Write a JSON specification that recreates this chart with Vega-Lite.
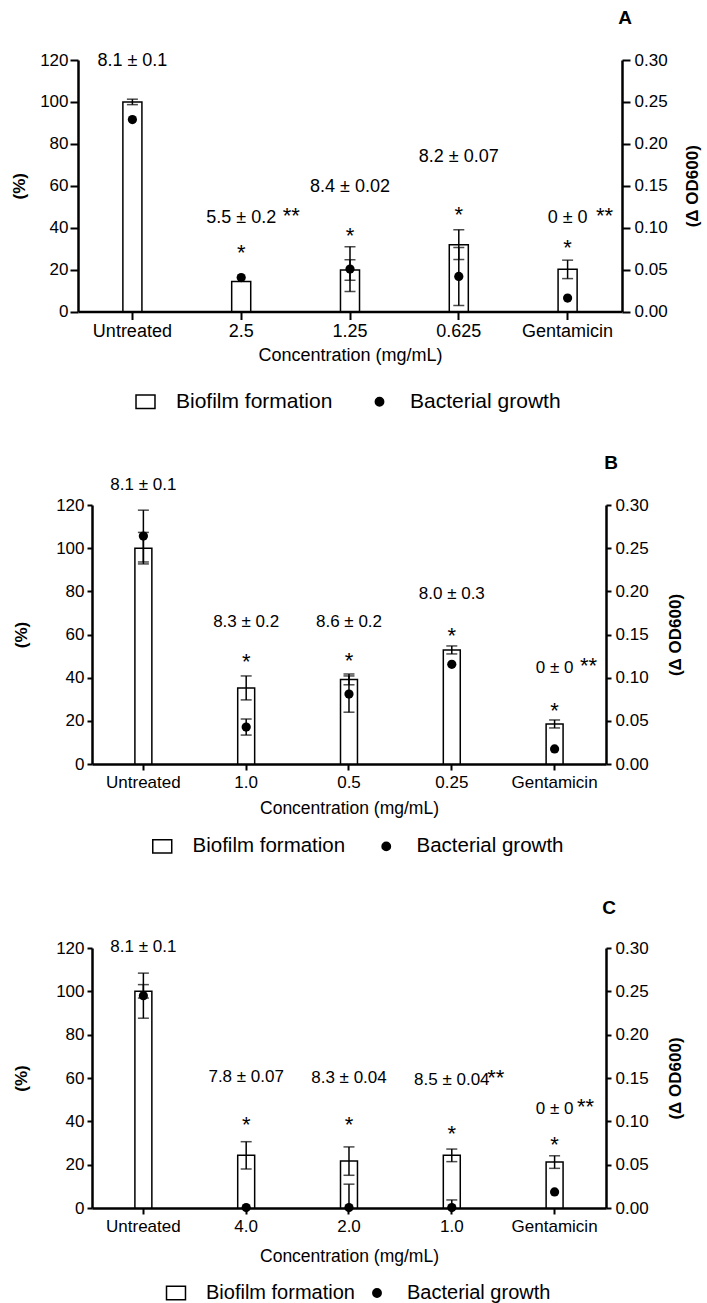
{
  "$schema": "https://vega.github.io/schema/vega-lite/v6.json",
  "padding": {"left": 10, "top": 9, "right": 5, "bottom": 5},
  "background": "white",
  "datasets": {
    "meas": [
      {"panel": "A", "conc": "Untreated", "series": "Biofilm formation", "value": 100, "err": 1.3},
      {"panel": "A", "conc": "2.5", "series": "Biofilm formation", "value": 14.3, "err": null},
      {"panel": "A", "conc": "1.25", "series": "Biofilm formation", "value": 19.8, "err": 4.9},
      {"panel": "A", "conc": "0.625", "series": "Biofilm formation", "value": 31.9, "err": 7.1},
      {"panel": "A", "conc": "Gentamicin", "series": "Biofilm formation", "value": 20.1, "err": 4.4},
      {"panel": "A", "conc": "Untreated", "series": "Bacterial growth", "value": 0.229, "err": null},
      {"panel": "A", "conc": "2.5", "series": "Bacterial growth", "value": 0.0405, "err": null},
      {"panel": "A", "conc": "1.25", "series": "Bacterial growth", "value": 0.0506, "err": 0.0266},
      {"panel": "A", "conc": "0.625", "series": "Bacterial growth", "value": 0.0418, "err": 0.0345},
      {"panel": "A", "conc": "Gentamicin", "series": "Bacterial growth", "value": 0.016, "err": null},
      {"panel": "B", "conc": "Untreated", "series": "Biofilm formation", "value": 100, "err": 7.3},
      {"panel": "B", "conc": "1.0", "series": "Biofilm formation", "value": 35.25, "err": 5.55},
      {"panel": "B", "conc": "0.5", "series": "Biofilm formation", "value": 39.2, "err": 2.5},
      {"panel": "B", "conc": "0.25", "series": "Biofilm formation", "value": 52.85, "err": 1.85},
      {"panel": "B", "conc": "Gentamicin", "series": "Biofilm formation", "value": 18.55, "err": 1.85},
      {"panel": "B", "conc": "Untreated", "series": "Bacterial growth", "value": 0.264, "err": 0.03},
      {"panel": "B", "conc": "1.0", "series": "Bacterial growth", "value": 0.0428, "err": 0.0093},
      {"panel": "B", "conc": "0.5", "series": "Bacterial growth", "value": 0.081, "err": 0.021},
      {"panel": "B", "conc": "0.25", "series": "Bacterial growth", "value": 0.1155, "err": null},
      {"panel": "B", "conc": "Gentamicin", "series": "Bacterial growth", "value": 0.0174, "err": null},
      {"panel": "C", "conc": "Untreated", "series": "Biofilm formation", "value": 100, "err": 3.1},
      {"panel": "C", "conc": "4.0", "series": "Biofilm formation", "value": 24.3, "err": 6.3},
      {"panel": "C", "conc": "2.0", "series": "Biofilm formation", "value": 21.65, "err": 6.55},
      {"panel": "C", "conc": "1.0", "series": "Biofilm formation", "value": 24.3, "err": 2.9},
      {"panel": "C", "conc": "Gentamicin", "series": "Biofilm formation", "value": 21.2, "err": 2.9},
      {"panel": "C", "conc": "Untreated", "series": "Bacterial growth", "value": 0.245, "err": 0.026},
      {"panel": "C", "conc": "4.0", "series": "Bacterial growth", "value": 0.0005, "err": null},
      {"panel": "C", "conc": "2.0", "series": "Bacterial growth", "value": 0.0005, "err": 0.027},
      {"panel": "C", "conc": "1.0", "series": "Bacterial growth", "value": 0.0005, "err": 0.0088},
      {"panel": "C", "conc": "Gentamicin", "series": "Bacterial growth", "value": 0.0185, "err": null}
    ],
    "ann": [
      {"panel": "A", "conc": "Untreated", "label": "8.1 ± 0.1", "label_y": 119.3, "sig": "", "star_y": null},
      {"panel": "A", "conc": "2.5", "label": "5.5 ± 0.2", "label_y": 44.8, "sig": "**", "star_y": 30.3},
      {"panel": "A", "conc": "1.25", "label": "8.4 ± 0.02", "label_y": 59.2, "sig": "", "star_y": 38.3},
      {"panel": "A", "conc": "0.625", "label": "8.2 ± 0.07", "label_y": 73.6, "sig": "", "star_y": 48.5},
      {"panel": "A", "conc": "Gentamicin", "label": "0 ± 0", "label_y": 44.8, "sig": "**", "star_y": 32.7},
      {"panel": "B", "conc": "Untreated", "label": "8.1 ± 0.1", "label_y": 129.3, "sig": "", "star_y": null},
      {"panel": "B", "conc": "1.0", "label": "8.3 ± 0.2", "label_y": 65.9, "sig": "", "star_y": 49.4},
      {"panel": "B", "conc": "0.5", "label": "8.6 ± 0.2", "label_y": 65.9, "sig": "", "star_y": 50.2},
      {"panel": "B", "conc": "0.25", "label": "8.0 ± 0.3", "label_y": 78.8, "sig": "", "star_y": 61.8},
      {"panel": "B", "conc": "Gentamicin", "label": "0 ± 0", "label_y": 44.3, "sig": "**", "star_y": 27.0},
      {"panel": "C", "conc": "Untreated", "label": "8.1 ± 0.1", "label_y": 120.5, "sig": "", "star_y": null},
      {"panel": "C", "conc": "4.0", "label": "7.8 ± 0.07", "label_y": 60.5, "sig": "", "star_y": 40.8},
      {"panel": "C", "conc": "2.0", "label": "8.3 ± 0.04", "label_y": 60.0, "sig": "", "star_y": 40.5},
      {"panel": "C", "conc": "1.0", "label": "8.5 ± 0.04", "label_y": 59.2, "sig": "**", "star_y": 36.5},
      {"panel": "C", "conc": "Gentamicin", "label": "0 ± 0", "label_y": 45.7, "sig": "**", "star_y": 31.5}
    ]
  },
  "vconcat": [
    {
      "width": 544,
      "height": 251.5,
      "title": {"text": "A", "anchor": "end", "frame": "group", "dx": 10, "offset": 23, "fontSize": 19, "fontWeight": "bold", "font": "Liberation Sans", "color": "black"},
      "layer": [
        {
          "layer": [
            {
              "data": {"name": "meas"},
              "transform": [{"filter": "datum.panel === 'A' && datum.series === 'Biofilm formation'"}],
              "mark": {"type": "bar", "stroke": "black", "strokeWidth": 1.5},
              "encoding": {
                "x": {"field": "conc", "type": "nominal", "sort": ["Untreated", "2.5", "1.25", "0.625", "Gentamicin"], "title": "Concentration (mg/mL)", "scale": {"paddingInner": 0.825, "paddingOuter": 0.4125},
                  "axis": {"labelAngle": 0, "labelFontSize": 18, "titleFontSize": 18, "titleFontWeight": "normal", "domainWidth": 2.5, "tickWidth": 2, "tickSize": 8, "labelPadding": 3, "titlePadding": 6}},
                "y": {"field": "value", "type": "quantitative", "title": "(%)", "scale": {"domain": [0, 120], "nice": false},
                  "axis": {"values": [0, 20, 40, 60, 80, 100, 120], "labelFontSize": 17, "titleFontSize": 17, "titleFontWeight": "bold", "domainWidth": 2.5, "tickWidth": 2, "tickSize": 8, "labelPadding": 2, "titlePadding": 11.5}},
                "fill": {"field": "series", "type": "nominal", "scale": {"domain": ["Biofilm formation", "Bacterial growth"], "range": ["white", "black"]},
                  "legend": {"title": null, "orient": "none", "legendX": 57, "legendY": 331, "direction": "horizontal", "labelFont": "Liberation Sans", "labelFontSize": 21, "labelLimit": 400, "labelColor": "black", "labelOffset": 20, "columnPadding": 36, "symbolStrokeColor": "black", "symbolStrokeWidth": 1.5, "symbolSize": 360,
                    "encode": {"symbols": {"update": {"shape": {"signal": "datum.value === 'Biofilm formation' ? 'M-1,-0.7H1V0.7H-1Z' : 'circle'"}, "size": {"signal": "datum.value === 'Biofilm formation' ? 360 : 70"}, "stroke": {"value": "black"}}}}}}
              }
            },
            {
              "data": {"name": "meas"},
              "transform": [{"filter": "datum.panel === 'A' && datum.series === 'Biofilm formation' && datum.err > 0"}],
              "mark": {"type": "errorbar", "ticks": true, "size": 11, "thickness": 1.5, "color": "black"},
              "encoding": {
                "x": {"field": "conc", "type": "nominal", "sort": ["Untreated", "2.5", "1.25", "0.625", "Gentamicin"], "title": "Concentration (mg/mL)"},
                "y": {"field": "value", "type": "quantitative", "title": "(%)", "scale": {"domain": [0, 120], "nice": false}},
                "yError": {"field": "err"}
              }
            },
            {
              "data": {"name": "ann"},
              "transform": [{"filter": "datum.panel === 'A'"}],
              "mark": {"type": "text", "font": "Liberation Sans", "fontSize": 18, "baseline": "middle", "align": "center", "color": "black"},
              "encoding": {
                "x": {"field": "conc", "type": "nominal", "sort": ["Untreated", "2.5", "1.25", "0.625", "Gentamicin"], "title": "Concentration (mg/mL)"},
                "y": {"field": "label_y", "type": "quantitative", "title": "(%)", "scale": {"domain": [0, 120], "nice": false}},
                "text": {"field": "label"}
              }
            },
            {
              "data": {"name": "ann"},
              "transform": [{"filter": "datum.panel === 'A' && datum.star_y != null"}],
              "mark": {"type": "text", "text": "*", "font": "Liberation Sans", "fontSize": 22, "baseline": "middle", "align": "center", "dy": 5, "color": "black"},
              "encoding": {
                "x": {"field": "conc", "type": "nominal", "sort": ["Untreated", "2.5", "1.25", "0.625", "Gentamicin"], "title": "Concentration (mg/mL)"},
                "y": {"field": "star_y", "type": "quantitative", "title": "(%)", "scale": {"domain": [0, 120], "nice": false}}
              }
            },
            {
              "data": {"name": "ann"},
              "transform": [{"filter": "datum.panel === 'A' && datum.sig !== '' && datum.conc !== 'Gentamicin'"}],
              "mark": {"type": "text", "font": "Liberation Sans", "fontSize": 22, "baseline": "middle", "align": "center", "dx": 50, "dy": -2, "color": "black"},
              "encoding": {
                "x": {"field": "conc", "type": "nominal", "sort": ["Untreated", "2.5", "1.25", "0.625", "Gentamicin"], "title": "Concentration (mg/mL)"},
                "y": {"field": "label_y", "type": "quantitative", "title": "(%)", "scale": {"domain": [0, 120], "nice": false}},
                "text": {"field": "sig"}
              }
            },
            {
              "data": {"name": "ann"},
              "transform": [{"filter": "datum.panel === 'A' && datum.sig !== '' && datum.conc === 'Gentamicin'"}],
              "mark": {"type": "text", "font": "Liberation Sans", "fontSize": 22, "baseline": "middle", "align": "center", "dx": 37, "dy": -2, "color": "black"},
              "encoding": {
                "x": {"field": "conc", "type": "nominal", "sort": ["Untreated", "2.5", "1.25", "0.625", "Gentamicin"], "title": "Concentration (mg/mL)"},
                "y": {"field": "label_y", "type": "quantitative", "title": "(%)", "scale": {"domain": [0, 120], "nice": false}},
                "text": {"field": "sig"}
              }
            }
          ]
        },
        {
          "layer": [
            {
              "data": {"name": "meas"},
              "transform": [{"filter": "datum.panel === 'A' && datum.series === 'Bacterial growth' && datum.err > 0"}],
              "mark": {"type": "errorbar", "ticks": true, "size": 11, "thickness": 1.5, "color": "black", "clip": true},
              "encoding": {
                "x": {"field": "conc", "type": "nominal", "sort": ["Untreated", "2.5", "1.25", "0.625", "Gentamicin"], "title": "Concentration (mg/mL)"},
                "y": {"field": "value", "type": "quantitative", "title": "(Δ OD600)", "scale": {"domain": [0, 0.3], "nice": false}},
                "yError": {"field": "err"}
              }
            },
            {
              "data": {"name": "meas"},
              "transform": [{"filter": "datum.panel === 'A' && datum.series === 'Bacterial growth'"}],
              "mark": {"type": "point", "filled": true, "size": 85, "opacity": 1},
              "encoding": {
                "x": {"field": "conc", "type": "nominal", "sort": ["Untreated", "2.5", "1.25", "0.625", "Gentamicin"], "title": "Concentration (mg/mL)"},
                "y": {"field": "value", "type": "quantitative", "title": "(Δ OD600)", "scale": {"domain": [0, 0.3], "nice": false},
                  "axis": {"orient": "right", "values": [0, 0.05, 0.1, 0.15, 0.2, 0.25, 0.3], "format": ".2f", "labelFontSize": 17, "titleFontSize": 17, "titleFontWeight": "bold", "domainWidth": 2.5, "tickWidth": 2, "tickSize": 8, "labelPadding": 4, "titlePadding": 17, "titleAngle": 270, "titleBaseline": "top"}},
                "fill": {"field": "series", "type": "nominal"}
              }
            }
          ]
        }
      ],
      "resolve": {"scale": {"y": "independent"}}
    },
    {
      "width": 528,
      "height": 259,
      "title": {"text": "B", "anchor": "end", "frame": "group", "dx": 12, "offset": 3, "fontSize": 19, "fontWeight": "bold", "font": "Liberation Sans", "color": "black"},
      "layer": [
        {
          "layer": [
            {
              "data": {"name": "meas"},
              "transform": [{"filter": "datum.panel === 'B' && datum.series === 'Biofilm formation'"}],
              "mark": {"type": "bar", "stroke": "black", "strokeWidth": 1.5},
              "encoding": {
                "x": {"field": "conc", "type": "nominal", "sort": ["Untreated", "1.0", "0.5", "0.25", "Gentamicin"], "title": "Concentration (mg/mL)", "scale": {"paddingInner": 0.835, "paddingOuter": 0.4855, "align": 0.57},
                  "axis": {"labelAngle": 0, "labelFontSize": 17, "titleFontSize": 17.5, "titleFontWeight": "normal", "domainWidth": 2.5, "domainDash": [0, 14, 1000], "tickWidth": 2, "tickSize": 6, "labelPadding": 4, "titlePadding": 9, "titleX": 271}},
                "y": {"field": "value", "type": "quantitative", "title": "(%)", "scale": {"domain": [0, 120], "nice": false},
                  "axis": {"offset": -14, "values": [0, 20, 40, 60, 80, 100, 120], "labelFontSize": 17, "titleFontSize": 17, "titleFontWeight": "bold", "domainWidth": 2.5, "tickWidth": 2, "tickSize": 5, "labelPadding": 3, "titlePadding": 25.5}},
                "fill": {"field": "series", "type": "nominal", "scale": {"domain": ["Biofilm formation", "Bacterial growth"], "range": ["white", "black"]},
                  "legend": {"title": null, "orient": "none", "legendX": 74, "legendY": 331, "direction": "horizontal", "labelFont": "Liberation Sans", "labelFontSize": 20.5, "labelLimit": 400, "labelColor": "black", "labelOffset": 20, "columnPadding": 30, "symbolStrokeColor": "black", "symbolStrokeWidth": 1.5, "symbolSize": 360,
                    "encode": {"symbols": {"update": {"shape": {"signal": "datum.value === 'Biofilm formation' ? 'M-1,-0.7H1V0.7H-1Z' : 'circle'"}, "size": {"signal": "datum.value === 'Biofilm formation' ? 360 : 70"}, "stroke": {"value": "black"}}}}}}
              }
            },
            {
              "data": {"name": "meas"},
              "transform": [{"filter": "datum.panel === 'B' && datum.series === 'Biofilm formation' && datum.err > 0"}],
              "mark": {"type": "errorbar", "ticks": true, "size": 11, "thickness": 1.5, "color": "black"},
              "encoding": {
                "x": {"field": "conc", "type": "nominal", "sort": ["Untreated", "1.0", "0.5", "0.25", "Gentamicin"], "title": "Concentration (mg/mL)"},
                "y": {"field": "value", "type": "quantitative", "title": "(%)", "scale": {"domain": [0, 120], "nice": false}},
                "yError": {"field": "err"}
              }
            },
            {
              "data": {"name": "ann"},
              "transform": [{"filter": "datum.panel === 'B'"}],
              "mark": {"type": "text", "font": "Liberation Sans", "fontSize": 17, "baseline": "middle", "align": "center", "color": "black"},
              "encoding": {
                "x": {"field": "conc", "type": "nominal", "sort": ["Untreated", "1.0", "0.5", "0.25", "Gentamicin"], "title": "Concentration (mg/mL)"},
                "y": {"field": "label_y", "type": "quantitative", "title": "(%)", "scale": {"domain": [0, 120], "nice": false}},
                "text": {"field": "label"}
              }
            },
            {
              "data": {"name": "ann"},
              "transform": [{"filter": "datum.panel === 'B' && datum.star_y != null"}],
              "mark": {"type": "text", "text": "*", "font": "Liberation Sans", "fontSize": 22, "baseline": "middle", "align": "center", "dy": 5, "color": "black"},
              "encoding": {
                "x": {"field": "conc", "type": "nominal", "sort": ["Untreated", "1.0", "0.5", "0.25", "Gentamicin"], "title": "Concentration (mg/mL)"},
                "y": {"field": "star_y", "type": "quantitative", "title": "(%)", "scale": {"domain": [0, 120], "nice": false}}
              }
            },
            {
              "data": {"name": "ann"},
              "transform": [{"filter": "datum.panel === 'B' && datum.sig !== ''"}],
              "mark": {"type": "text", "font": "Liberation Sans", "fontSize": 22, "baseline": "middle", "align": "center", "dx": 34, "dy": -2, "color": "black"},
              "encoding": {
                "x": {"field": "conc", "type": "nominal", "sort": ["Untreated", "1.0", "0.5", "0.25", "Gentamicin"], "title": "Concentration (mg/mL)"},
                "y": {"field": "label_y", "type": "quantitative", "title": "(%)", "scale": {"domain": [0, 120], "nice": false}},
                "text": {"field": "sig"}
              }
            }
          ]
        },
        {
          "layer": [
            {
              "data": {"name": "meas"},
              "transform": [{"filter": "datum.panel === 'B' && datum.series === 'Bacterial growth' && datum.err > 0"}],
              "mark": {"type": "errorbar", "ticks": true, "size": 11, "thickness": 1.5, "color": "black", "clip": true},
              "encoding": {
                "x": {"field": "conc", "type": "nominal", "sort": ["Untreated", "1.0", "0.5", "0.25", "Gentamicin"], "title": "Concentration (mg/mL)"},
                "y": {"field": "value", "type": "quantitative", "title": "(Δ OD600)", "scale": {"domain": [0, 0.3], "nice": false}},
                "yError": {"field": "err"}
              }
            },
            {
              "data": {"name": "meas"},
              "transform": [{"filter": "datum.panel === 'B' && datum.series === 'Bacterial growth'"}],
              "mark": {"type": "point", "filled": true, "size": 85, "opacity": 1},
              "encoding": {
                "x": {"field": "conc", "type": "nominal", "sort": ["Untreated", "1.0", "0.5", "0.25", "Gentamicin"], "title": "Concentration (mg/mL)"},
                "y": {"field": "value", "type": "quantitative", "title": "(Δ OD600)", "scale": {"domain": [0, 0.3], "nice": false},
                  "axis": {"orient": "right", "values": [0, 0.05, 0.1, 0.15, 0.2, 0.25, 0.3], "format": ".2f", "labelFontSize": 17, "titleFontSize": 17, "titleFontWeight": "bold", "domainWidth": 2.5, "tickWidth": 2, "tickSize": 5, "labelPadding": 4, "titlePadding": 19, "titleAngle": 270, "titleBaseline": "top"}},
                "fill": {"field": "series", "type": "nominal"}
              }
            }
          ]
        }
      ],
      "resolve": {"scale": {"y": "independent"}}
    },
    {
      "width": 528,
      "height": 260,
      "title": {"text": "C", "anchor": "end", "frame": "group", "dx": 10, "offset": 20, "fontSize": 19, "fontWeight": "bold", "font": "Liberation Sans", "color": "black"},
      "layer": [
        {
          "layer": [
            {
              "data": {"name": "meas"},
              "transform": [{"filter": "datum.panel === 'C' && datum.series === 'Biofilm formation'"}],
              "mark": {"type": "bar", "stroke": "black", "strokeWidth": 1.5},
              "encoding": {
                "x": {"field": "conc", "type": "nominal", "sort": ["Untreated", "4.0", "2.0", "1.0", "Gentamicin"], "title": "Concentration (mg/mL)", "scale": {"paddingInner": 0.835, "paddingOuter": 0.4855, "align": 0.57},
                  "axis": {"labelAngle": 0, "labelFontSize": 17, "titleFontSize": 17.5, "titleFontWeight": "normal", "domainWidth": 2.5, "domainDash": [0, 14, 1000], "tickWidth": 2, "tickSize": 6, "labelPadding": 4, "titlePadding": 13, "titleX": 271}},
                "y": {"field": "value", "type": "quantitative", "title": "(%)", "scale": {"domain": [0, 120], "nice": false},
                  "axis": {"offset": -14, "values": [0, 20, 40, 60, 80, 100, 120], "labelFontSize": 17, "titleFontSize": 17, "titleFontWeight": "bold", "domainWidth": 2.5, "tickWidth": 2, "tickSize": 5, "labelPadding": 3, "titlePadding": 25.5}},
                "fill": {"field": "series", "type": "nominal", "scale": {"domain": ["Biofilm formation", "Bacterial growth"], "range": ["white", "black"]},
                  "legend": {"title": null, "orient": "none", "legendX": 88, "legendY": 335, "direction": "horizontal", "labelFont": "Liberation Sans", "labelFontSize": 20, "labelLimit": 400, "labelColor": "black", "labelOffset": 20, "columnPadding": 12, "symbolStrokeColor": "black", "symbolStrokeWidth": 1.5, "symbolSize": 360,
                    "encode": {"symbols": {"update": {"shape": {"signal": "datum.value === 'Biofilm formation' ? 'M-1,-0.7H1V0.7H-1Z' : 'circle'"}, "size": {"signal": "datum.value === 'Biofilm formation' ? 360 : 70"}, "stroke": {"value": "black"}}}}}}
              }
            },
            {
              "data": {"name": "meas"},
              "transform": [{"filter": "datum.panel === 'C' && datum.series === 'Biofilm formation' && datum.err > 0"}],
              "mark": {"type": "errorbar", "ticks": true, "size": 11, "thickness": 1.5, "color": "black"},
              "encoding": {
                "x": {"field": "conc", "type": "nominal", "sort": ["Untreated", "4.0", "2.0", "1.0", "Gentamicin"], "title": "Concentration (mg/mL)"},
                "y": {"field": "value", "type": "quantitative", "title": "(%)", "scale": {"domain": [0, 120], "nice": false}},
                "yError": {"field": "err"}
              }
            },
            {
              "data": {"name": "ann"},
              "transform": [{"filter": "datum.panel === 'C'"}],
              "mark": {"type": "text", "font": "Liberation Sans", "fontSize": 17, "baseline": "middle", "align": "center", "color": "black"},
              "encoding": {
                "x": {"field": "conc", "type": "nominal", "sort": ["Untreated", "4.0", "2.0", "1.0", "Gentamicin"], "title": "Concentration (mg/mL)"},
                "y": {"field": "label_y", "type": "quantitative", "title": "(%)", "scale": {"domain": [0, 120], "nice": false}},
                "text": {"field": "label"}
              }
            },
            {
              "data": {"name": "ann"},
              "transform": [{"filter": "datum.panel === 'C' && datum.star_y != null"}],
              "mark": {"type": "text", "text": "*", "font": "Liberation Sans", "fontSize": 22, "baseline": "middle", "align": "center", "dy": 5, "color": "black"},
              "encoding": {
                "x": {"field": "conc", "type": "nominal", "sort": ["Untreated", "4.0", "2.0", "1.0", "Gentamicin"], "title": "Concentration (mg/mL)"},
                "y": {"field": "star_y", "type": "quantitative", "title": "(%)", "scale": {"domain": [0, 120], "nice": false}}
              }
            },
            {
              "data": {"name": "ann"},
              "transform": [{"filter": "datum.panel === 'C' && datum.sig !== '' && datum.conc !== 'Gentamicin'"}],
              "mark": {"type": "text", "font": "Liberation Sans", "fontSize": 22, "baseline": "middle", "align": "center", "dx": 44, "dy": -2, "color": "black"},
              "encoding": {
                "x": {"field": "conc", "type": "nominal", "sort": ["Untreated", "4.0", "2.0", "1.0", "Gentamicin"], "title": "Concentration (mg/mL)"},
                "y": {"field": "label_y", "type": "quantitative", "title": "(%)", "scale": {"domain": [0, 120], "nice": false}},
                "text": {"field": "sig"}
              }
            },
            {
              "data": {"name": "ann"},
              "transform": [{"filter": "datum.panel === 'C' && datum.sig !== '' && datum.conc === 'Gentamicin'"}],
              "mark": {"type": "text", "font": "Liberation Sans", "fontSize": 22, "baseline": "middle", "align": "center", "dx": 31, "dy": -2, "color": "black"},
              "encoding": {
                "x": {"field": "conc", "type": "nominal", "sort": ["Untreated", "4.0", "2.0", "1.0", "Gentamicin"], "title": "Concentration (mg/mL)"},
                "y": {"field": "label_y", "type": "quantitative", "title": "(%)", "scale": {"domain": [0, 120], "nice": false}},
                "text": {"field": "sig"}
              }
            }
          ]
        },
        {
          "layer": [
            {
              "data": {"name": "meas"},
              "transform": [{"filter": "datum.panel === 'C' && datum.series === 'Bacterial growth' && datum.err > 0"}],
              "mark": {"type": "errorbar", "ticks": true, "size": 11, "thickness": 1.5, "color": "black", "clip": true},
              "encoding": {
                "x": {"field": "conc", "type": "nominal", "sort": ["Untreated", "4.0", "2.0", "1.0", "Gentamicin"], "title": "Concentration (mg/mL)"},
                "y": {"field": "value", "type": "quantitative", "title": "(Δ OD600)", "scale": {"domain": [0, 0.3], "nice": false}},
                "yError": {"field": "err"}
              }
            },
            {
              "data": {"name": "meas"},
              "transform": [{"filter": "datum.panel === 'C' && datum.series === 'Bacterial growth'"}],
              "mark": {"type": "point", "filled": true, "size": 85, "opacity": 1},
              "encoding": {
                "x": {"field": "conc", "type": "nominal", "sort": ["Untreated", "4.0", "2.0", "1.0", "Gentamicin"], "title": "Concentration (mg/mL)"},
                "y": {"field": "value", "type": "quantitative", "title": "(Δ OD600)", "scale": {"domain": [0, 0.3], "nice": false},
                  "axis": {"orient": "right", "values": [0, 0.05, 0.1, 0.15, 0.2, 0.25, 0.3], "format": ".2f", "labelFontSize": 17, "titleFontSize": 17, "titleFontWeight": "bold", "domainWidth": 2.5, "tickWidth": 2, "tickSize": 5, "labelPadding": 4, "titlePadding": 19, "titleAngle": 270, "titleBaseline": "top"}},
                "fill": {"field": "series", "type": "nominal"}
              }
            }
          ]
        }
      ],
      "resolve": {"scale": {"y": "independent"}}
    }
  ],
  "spacing": 41,
  "resolve": {"scale": {"fill": "independent"}, "legend": {"fill": "independent"}},
  "config": {
    "view": {"stroke": null},
    "axis": {"grid": false, "labelFont": "Liberation Sans", "titleFont": "Liberation Sans", "labelColor": "black", "titleColor": "black", "domainColor": "black", "tickColor": "black"},
    "text": {"font": "Liberation Sans", "color": "black"}
  }
}
